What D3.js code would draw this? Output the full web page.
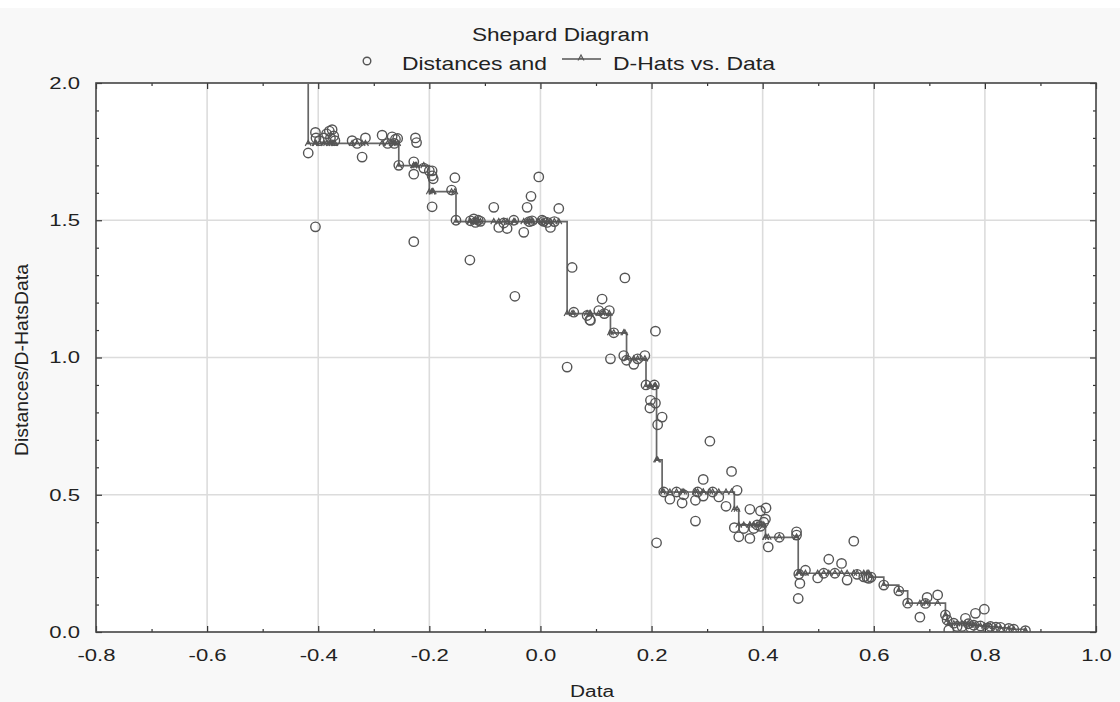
<!DOCTYPE html>
<html>
<head>
<meta charset="utf-8">
<script src="https://cdn.jsdelivr.net/npm/d3@7/dist/d3.min.js"></script>
<style>
  html, body { margin: 0; padding: 0; background: #f8f8f8; }
  svg { display: block; }
  text { font-family: "Liberation Sans", Arial, sans-serif; fill: #222; }
</style>
</head>
<body>
<svg id="chart" width="1120" height="702"></svg>
<script>
// Data values (x), observed distances and monotone D-hats, sorted by data
const dataVals = [
  -0.421, -0.418, -0.405, -0.405, -0.404, -0.398, -0.39, -0.385, -0.38, -0.378,
  -0.375, -0.372, -0.37, -0.339, -0.33, -0.321, -0.315, -0.285, -0.275, -0.267,
  -0.263, -0.261, -0.257,
  -0.255, -0.228, -0.228, -0.228, -0.225, -0.223, -0.21,
  -0.2, -0.195, -0.195, -0.193, -0.195, -0.16, -0.154,
  -0.152, -0.127, -0.126, -0.12, -0.117, -0.112, -0.108, -0.084, -0.075, -0.066,
  -0.06, -0.048, -0.046, -0.03, -0.024, -0.02, -0.017, -0.015, -0.003, 0.003,
  0.006, 0.012, 0.018, 0.025, 0.033,
  0.048, 0.057, 0.06, 0.084, 0.089, 0.09, 0.105, 0.111, 0.115, 0.124,
  0.126, 0.132, 0.15, 0.152,
  0.155, 0.168, 0.175, 0.188,
  0.19, 0.197, 0.198, 0.205, 0.207, 0.207,
  0.209, 0.211,
  0.219, 0.222, 0.233, 0.245, 0.255, 0.258, 0.279, 0.279, 0.283, 0.293,
  0.293, 0.305, 0.31, 0.321, 0.334, 0.344,
  0.349, 0.354,
  0.357, 0.366, 0.377, 0.377, 0.384, 0.39, 0.396, 0.396, 0.402,
  0.405, 0.406, 0.41, 0.43, 0.461, 0.461,
  0.464, 0.465, 0.467, 0.477, 0.499, 0.51, 0.519, 0.53, 0.542, 0.552,
  0.564, 0.57, 0.582, 0.588, 0.591,
  0.595, 0.618, 0.645, 0.661, 0.683, 0.693, 0.696, 0.715,
  0.729, 0.732, 0.735, 0.744, 0.75, 0.759, 0.765, 0.77, 0.774, 0.78,
  0.783, 0.792, 0.799, 0.805, 0.81, 0.82, 0.828, 0.843, 0.852, 0.873
];
const distances = [
  2.25, 1.745, 1.476, 1.82, 1.80, 1.79, 1.80, 1.815, 1.825, 1.80,
  1.83, 1.807, 1.79, 1.79, 1.78, 1.73, 1.80, 1.81, 1.78, 1.804,
  1.78, 1.795, 1.798,
  1.70, 1.713, 1.668, 1.422, 1.80, 1.783, 1.69,
  1.68, 1.68, 1.662, 1.651, 1.549, 1.61, 1.655,
  1.50, 1.355, 1.498, 1.505, 1.492, 1.50, 1.496, 1.547, 1.474, 1.49,
  1.47, 1.50, 1.223, 1.456, 1.547, 1.495, 1.587, 1.498, 1.658, 1.50,
  1.496, 1.492, 1.474, 1.495, 1.543,
  0.965, 1.328, 1.165, 1.153, 1.137, 1.135, 1.171, 1.213, 1.16, 1.171,
  0.995, 1.09, 1.007, 1.29,
  0.99, 0.975, 0.995, 1.007,
  0.90, 0.816, 0.844, 0.90, 1.096, 0.834,
  0.325, 0.755,
  0.783, 0.51, 0.484, 0.51, 0.47, 0.50, 0.48, 0.404, 0.51, 0.556,
  0.495, 0.695, 0.51, 0.492, 0.458, 0.585,
  0.38, 0.516,
  0.347, 0.377, 0.447, 0.341, 0.377, 0.39, 0.441, 0.385, 0.40,
  0.411, 0.452, 0.31, 0.345, 0.365, 0.353,
  0.122, 0.211, 0.177, 0.225, 0.197, 0.214, 0.265, 0.214, 0.25, 0.189,
  0.331, 0.21, 0.201, 0.198, 0.195,
  0.20, 0.171, 0.15, 0.105, 0.054, 0.104, 0.126, 0.135,
  0.062, 0.044, 0.007, 0.032, 0.02, 0.02, 0.05, 0.03, 0.017, 0.025,
  0.068, 0.022, 0.083, 0.015, 0.02, 0.018, 0.017, 0.013, 0.01, 0.005
];
const dHats = [
  2.25, 1.78, 1.78, 1.78, 1.78, 1.78, 1.78, 1.78, 1.78, 1.78,
  1.78, 1.78, 1.78, 1.78, 1.78, 1.78, 1.78, 1.78, 1.78, 1.78,
  1.78, 1.78, 1.78,
  1.699, 1.699, 1.699, 1.699, 1.699, 1.699, 1.699,
  1.604, 1.604, 1.604, 1.604, 1.604, 1.604, 1.604,
  1.495, 1.495, 1.495, 1.495, 1.495, 1.495, 1.495, 1.495, 1.495, 1.495,
  1.495, 1.495, 1.495, 1.495, 1.495, 1.495, 1.495, 1.495, 1.495, 1.495,
  1.495, 1.495, 1.495, 1.495, 1.495,
  1.16, 1.16, 1.16, 1.16, 1.16, 1.16, 1.16, 1.16, 1.16, 1.16,
  1.09, 1.09, 1.09, 1.09,
  0.995, 0.995, 0.995, 0.995,
  0.896, 0.896, 0.896, 0.896, 0.896, 0.896,
  0.627, 0.627,
  0.51, 0.51, 0.51, 0.51, 0.51, 0.51, 0.51, 0.51, 0.51, 0.51,
  0.51, 0.51, 0.51, 0.51, 0.51, 0.51,
  0.447, 0.447,
  0.39, 0.39, 0.39, 0.39, 0.39, 0.39, 0.39, 0.39, 0.39,
  0.345, 0.345, 0.345, 0.345, 0.345, 0.345,
  0.214, 0.214, 0.214, 0.214, 0.214, 0.214, 0.214, 0.214, 0.214, 0.214,
  0.214, 0.214, 0.214, 0.214, 0.214,
  0.20, 0.171, 0.15, 0.105, 0.105, 0.105, 0.105, 0.105,
  0.062, 0.04, 0.03, 0.03, 0.03, 0.03, 0.03, 0.03, 0.025, 0.025,
  0.025, 0.022, 0.022, 0.02, 0.02, 0.018, 0.015, 0.012, 0.01, 0.005
];

const xMajor = [-0.8, -0.6, -0.4, -0.2, 0.0, 0.2, 0.4, 0.6, 0.8, 1.0];
const xMinor = [-0.7, -0.5, -0.3, -0.1, 0.1, 0.3, 0.5, 0.7, 0.9];
const yMajor = [0.0, 0.5, 1.0, 1.5, 2.0];
const yMinor = [0.1, 0.2, 0.3, 0.4, 0.6, 0.7, 0.8, 0.9, 1.1, 1.2, 1.3, 1.4, 1.6, 1.7, 1.8, 1.9];

const points = dataVals.map((d, i) => ({ x: d, dist: distances[i], dhat: dHats[i] }));

// //////////////////////////////////////////////////////////////////////////
// Layout
const plotLeft = 96, plotRight = 1096, plotTop = 83, plotBottom = 632;
const stretch = 1.3; // the original text is drawn horizontally widened

const svg = d3.select("#chart");

const x = d3.scaleLinear().domain([-0.8, 1.0]).range([plotLeft, plotRight]);
const y = d3.scaleLinear().domain([0, 2]).range([plotBottom, plotTop]);

// white strip at very top, plot background
svg.append("rect").attr("x", 0).attr("y", 0).attr("width", 1120).attr("height", 8).attr("fill", "#fff");
svg.append("rect")
  .attr("x", plotLeft).attr("y", plotTop)
  .attr("width", plotRight - plotLeft).attr("height", plotBottom - plotTop)
  .attr("fill", "#fff");

svg.append("clipPath").attr("id", "plotClip")
  .append("rect")
  .attr("x", plotLeft).attr("y", plotTop)
  .attr("width", plotRight - plotLeft).attr("height", plotBottom - plotTop);

// grid
const grid = svg.append("g").attr("class", "grid");
grid.selectAll("line.vx")
  .data(xMajor.slice(1, -1))
  .join("line")
  .attr("class", "vx")
  .attr("x1", (d) => x(d)).attr("x2", (d) => x(d))
  .attr("y1", plotTop).attr("y2", plotBottom)
  .attr("stroke", "#dcdcdc").attr("stroke-width", 1.6);
grid.selectAll("line.hy")
  .data(yMajor.slice(1, -1))
  .join("line")
  .attr("class", "hy")
  .attr("x1", plotLeft).attr("x2", plotRight)
  .attr("y1", (d) => y(d)).attr("y2", (d) => y(d))
  .attr("stroke", "#dcdcdc").attr("stroke-width", 1.6);

// axes (ticks pointing inward), plain hyphen for negatives
const fmt = (d) => d3.format(".1f")(d).replace("\u2212", "-");
const styleAxis = (g) => {
  g.select(".domain").remove();
  g.selectAll(".tick line").attr("stroke", "#333").attr("stroke-width", 1.2);
  g.selectAll("text").attr("font-size", 17).attr("fill", "#222");
};

svg.append("g")
  .attr("transform", `translate(0,${plotBottom})`)
  .call(d3.axisBottom(x).tickValues(xMajor).tickFormat(fmt).tickSizeInner(-6).tickSizeOuter(0).tickPadding(17))
  .call(styleAxis)
  .call((g) => g.selectAll("text").attr("transform", `scale(${stretch},1)`));
svg.append("g")
  .attr("transform", `translate(0,${plotBottom})`)
  .call(d3.axisBottom(x).tickValues(xMinor).tickFormat("").tickSizeInner(-3).tickSizeOuter(0))
  .call(styleAxis);
svg.append("g")
  .attr("transform", `translate(0,${plotTop})`)
  .call(d3.axisTop(x).tickValues(xMajor).tickFormat("").tickSizeInner(-6).tickSizeOuter(0))
  .call(styleAxis);
svg.append("g")
  .attr("transform", `translate(0,${plotTop})`)
  .call(d3.axisTop(x).tickValues(xMinor).tickFormat("").tickSizeInner(-3).tickSizeOuter(0))
  .call(styleAxis);

svg.append("g")
  .attr("transform", `translate(${plotLeft},0)`)
  .call(d3.axisLeft(y).tickValues(yMajor).tickFormat(fmt).tickSizeInner(-6).tickSizeOuter(0).tickPadding(16))
  .call(styleAxis)
  .call((g) => g.selectAll("text").attr("transform", `translate(-16,0) scale(${stretch},1) translate(16,0)`));
svg.append("g")
  .attr("transform", `translate(${plotLeft},0)`)
  .call(d3.axisLeft(y).tickValues(yMinor).tickFormat("").tickSizeInner(-3).tickSizeOuter(0))
  .call(styleAxis);
svg.append("g")
  .attr("transform", `translate(${plotRight},0)`)
  .call(d3.axisRight(y).tickValues(yMajor).tickFormat("").tickSizeInner(-6).tickSizeOuter(0))
  .call(styleAxis);
svg.append("g")
  .attr("transform", `translate(${plotRight},0)`)
  .call(d3.axisRight(y).tickValues(yMinor).tickFormat("").tickSizeInner(-3).tickSizeOuter(0))
  .call(styleAxis);

// frame
svg.append("rect")
  .attr("x", plotLeft).attr("y", plotTop)
  .attr("width", plotRight - plotLeft).attr("height", plotBottom - plotTop)
  .attr("fill", "none").attr("stroke", "#444").attr("stroke-width", 1.6);

// data layers
const plot = svg.append("g").attr("clip-path", "url(#plotClip)");

// D-hats step line
const stepLine = d3.line()
  .x((d) => x(d.x))
  .y((d) => y(d.dhat))
  .curve(d3.curveStepAfter);

plot.append("path")
  .datum(points)
  .attr("d", stepLine)
  .attr("fill", "none")
  .attr("stroke", "#666")
  .attr("stroke-width", 1.7);

const markerPath = "M-3,2.5L0,-3L3,2.5M-1.8,0.2L1.8,0.2";

plot.selectAll("path.dhat")
  .data(points)
  .join("path")
  .attr("class", "dhat")
  .attr("transform", (d) => `translate(${x(d.x)},${y(d.dhat)})`)
  .attr("d", markerPath)
  .attr("fill", "none")
  .attr("stroke", "#555")
  .attr("stroke-width", 1.2);

// distances as open circles
plot.selectAll("circle")
  .data(points)
  .join("circle")
  .attr("cx", (d) => x(d.x))
  .attr("cy", (d) => y(d.dist))
  .attr("r", 4.7)
  .attr("fill", "none")
  .attr("stroke", "#555")
  .attr("stroke-width", 1.4);

// title
svg.append("text")
  .attr("x", 472).attr("y", 41)
  .attr("font-size", 18)
  .attr("textLength", 177)
  .attr("lengthAdjust", "spacingAndGlyphs")
  .text("Shepard Diagram");

// legend
const legend = svg.append("g");
legend.append("circle")
  .attr("cx", 367).attr("cy", 61).attr("r", 3.8)
  .attr("fill", "none").attr("stroke", "#555").attr("stroke-width", 1.4);
legend.append("text")
  .attr("x", 402).attr("y", 70)
  .attr("font-size", 19)
  .attr("textLength", 145)
  .attr("lengthAdjust", "spacingAndGlyphs")
  .text("Distances and");
legend.append("line")
  .attr("x1", 562).attr("x2", 601).attr("y1", 59).attr("y2", 59)
  .attr("stroke", "#555").attr("stroke-width", 1.3);
legend.append("path")
  .attr("transform", "translate(581,58)")
  .attr("d", markerPath)
  .attr("fill", "none").attr("stroke", "#555").attr("stroke-width", 1.1);
legend.append("text")
  .attr("x", 613).attr("y", 70)
  .attr("font-size", 19)
  .attr("textLength", 162)
  .attr("lengthAdjust", "spacingAndGlyphs")
  .text("D-Hats vs. Data");

// axis titles
svg.append("text")
  .attr("x", 570).attr("y", 697)
  .attr("font-size", 16)
  .attr("textLength", 44)
  .attr("lengthAdjust", "spacingAndGlyphs")
  .text("Data");

svg.append("text")
  .attr("transform", "translate(28,456) rotate(-90) scale(1,1.2)")
  .attr("font-size", 16)
  .attr("textLength", 192)
  .attr("lengthAdjust", "spacingAndGlyphs")
  .text("Distances/D-HatsData");
</script>
</body>
</html>
